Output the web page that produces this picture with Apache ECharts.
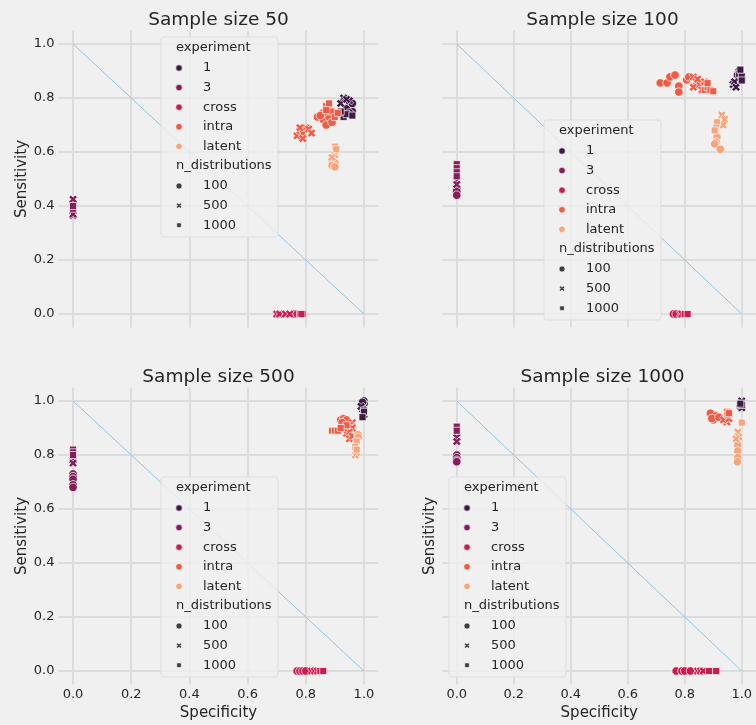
<!DOCTYPE html>
<html>
<head>
<meta charset="utf-8">
<script src="https://cdn.jsdelivr.net/npm/echarts@6/dist/echarts.min.js"></script>
<style>
  html, body { margin: 0; padding: 0; background: #f0f0f0; }
  #chart { width: 756px; height: 725px; }
</style>
</head>
<body>
<div id="chart"></div>
<script>
// Categories
const experiments = ['1', '3', 'cross', 'intra', 'latent'];
const nDistributions = [100, 500, 1000];
const sampleSizes = [50, 100, 500, 1000];
const tickValues = [0, 0.2, 0.4, 0.6, 0.8, 1.0];
const diagonal = [[0, 1], [1, 0]];

// Each row: [specificity, sensitivity, n_distributions]
const size50_exp1 = [[0.95,0.77,100],[0.96,0.75,100],[0.94,0.76,100],[0.96,0.78,100],[0.95,0.745,100],
  [0.93,0.80,500],[0.95,0.79,500],[0.92,0.78,500],[0.94,0.795,500],
  [0.93,0.73,1000],[0.94,0.74,1000],[0.96,0.735,1000],[0.92,0.75,1000]];
const size50_exp3 = [[0,0.41,100],[0,0.38,100],[0,0.425,500],[0,0.365,500],[0,0.37,500],
  [0,0.395,1000],[0,0.39,1000],[0,0.40,1000]];
const size50_cross = [[0.76,0,100],[0.77,0,100],[0.70,0,500],[0.71,0,500],[0.73,0,500],[0.745,0,500],
  [0.78,0,1000],[0.79,0,1000],[0.785,0,1000]];
const size50_intra = [[0.84,0.73,100],[0.86,0.72,100],[0.87,0.70,100],[0.88,0.73,100],[0.86,0.745,100],[0.89,0.71,100],[0.85,0.735,100],
  [0.77,0.66,500],[0.78,0.68,500],[0.79,0.67,500],[0.80,0.69,500],[0.81,0.685,500],[0.82,0.67,500],[0.79,0.65,500],[0.78,0.69,500],
  [0.87,0.77,1000],[0.88,0.76,1000],[0.89,0.75,1000],[0.90,0.73,1000],[0.88,0.78,1000],[0.87,0.755,1000],[0.91,0.745,1000]];
const size50_latent = [[0.89,0.57,100],[0.90,0.56,100],[0.89,0.55,100],[0.90,0.545,100],
  [0.90,0.59,500],[0.89,0.58,500],[0.90,0.62,1000],[0.905,0.61,1000]];

const size100_exp1 = [[0.99,0.90,100],[1.0,0.87,100],[0.985,0.885,100],
  [0.97,0.85,500],[0.975,0.86,500],[0.98,0.84,500],
  [0.99,0.89,1000],[1.0,0.88,1000],[0.995,0.905,1000],[1.0,0.865,1000]];
const size100_exp3 = [[0,0.465,100],[0,0.455,100],[0,0.44,100],[0,0.495,500],[0,0.48,500],
  [0,0.555,1000],[0,0.54,1000],[0,0.525,1000],[0,0.51,1000]];
const size100_cross = [[0.76,0,100],[0.77,0,100],[0.785,0,500],[0.79,0,500],[0.80,0,1000],[0.81,0,1000]];
const size100_intra = [[0.714,0.856,100],[0.738,0.856,100],[0.748,0.878,100],[0.766,0.885,100],[0.779,0.844,100],[0.779,0.822,100],[0.807,0.867,100],[0.814,0.878,100],
  [0.83,0.878,500],[0.84,0.86,500],[0.85,0.85,500],[0.86,0.83,500],[0.83,0.84,500],[0.87,0.86,500],[0.845,0.87,500],
  [0.87,0.83,1000],[0.88,0.84,1000],[0.89,0.83,1000],[0.90,0.825,1000],[0.88,0.855,1000]];
const size100_latent = [[0.913,0.655,100],[0.91,0.637,100],[0.905,0.63,100],[0.925,0.61,100],
  [0.93,0.737,500],[0.94,0.72,500],[0.935,0.70,500],
  [0.913,0.71,1000],[0.91,0.69,1000],[0.905,0.68,1000]];

const size500_exp1 = [[1.0,1.0,100],[1.0,0.99,100],[0.995,0.995,100],
  [0.995,0.97,500],[1.0,0.95,500],[0.99,0.98,500],
  [1.0,0.965,1000],[1.0,0.96,1000],[0.995,0.94,1000]];
const size500_exp3 = [[0,0.73,100],[0,0.72,100],[0,0.71,100],[0,0.69,100],[0,0.68,100],
  [0,0.78,500],[0,0.77,500],[0,0.82,1000],[0,0.81,1000],[0,0.80,1000]];
const size500_cross = [[0.77,0,100],[0.78,0,100],[0.79,0,100],[0.80,0,100],
  [0.82,0,500],[0.83,0,500],[0.84,0,500],[0.85,0,1000],[0.86,0,1000]];
const size500_intra = [[0.92,0.93,100],[0.93,0.935,100],[0.94,0.93,100],[0.925,0.92,100],
  [0.96,0.92,500],[0.95,0.91,500],[0.96,0.90,500],[0.94,0.88,500],[0.95,0.885,500],[0.95,0.86,500],[0.93,0.90,500],[0.96,0.87,500],
  [0.89,0.89,1000],[0.90,0.89,1000],[0.91,0.89,1000],[0.94,0.91,1000],[0.92,0.90,1000]];
const size500_latent = [[0.98,0.875,100],[0.98,0.865,100],
  [0.97,0.80,500],[0.975,0.81,500],
  [0.975,0.85,1000],[0.97,0.83,1000],[0.975,0.82,1000]];

const size1000_exp1 = [[0.995,0.98,100],[1.0,0.98,100],
  [1.0,1.0,500],[1.0,0.975,500],
  [1.0,0.99,1000],[1.0,0.985,1000],[0.995,0.99,1000]];
const size1000_exp3 = [[0,0.80,100],[0,0.79,100],[0,0.78,100],[0,0.775,100],
  [0,0.865,500],[0,0.85,500],[0,0.905,1000],[0,0.89,1000]];
const size1000_cross = [[0.77,0,100],[0.79,0,100],[0.80,0,100],[0.82,0,100],
  [0.845,0,500],[0.855,0,500],[0.865,0,500],[0.885,0,1000],[0.91,0,1000]];
const size1000_intra = [[0.89,0.955,100],[0.907,0.94,100],[0.90,0.93,100],[0.91,0.945,100],[0.895,0.935,100],[0.92,0.94,100],
  [0.948,0.922,500],[0.936,0.93,500],[0.955,0.935,500],
  [0.948,0.96,1000],[0.95,0.95,1000],[0.955,0.955,1000]];
const size1000_latent = [[0.986,0.837,100],[0.986,0.815,100],[0.986,0.79,100],[0.985,0.775,100],
  [0.986,0.885,500],[0.99,0.867,500],[0.98,0.86,500],[1.0,0.92,1000]];

const panelData = [
  [size50_exp1, size50_exp3, size50_cross, size50_intra, size50_latent],
  [size100_exp1, size100_exp3, size100_cross, size100_intra, size100_latent],
  [size500_exp1, size500_exp3, size500_cross, size500_intra, size500_latent],
  [size1000_exp1, size1000_exp3, size1000_cross, size1000_intra, size1000_latent]
];

// Styling
const FONT = 'DejaVu Sans';
const TEXT = '#262626';
const palette = ['#3e1a45', '#851e5a', '#cb1b4f', '#ef5b44', '#f6a47c'];
const STYLE_GREY = '#3c3c3c';
// thick "X" outline in a 10x10 box
const X_PTS = [[0,2.5],[2.5,0],[5,2.5],[7.5,0],[10,2.5],[7.5,5],[10,7.5],[7.5,10],[5,7.5],[2.5,10],[0,7.5],[2.5,5]];
const X_PATH = 'path://M' + X_PTS.map(p => p.join(',')).join('L') + 'Z';
const SQ_PATH = 'path://M0,0L10,0L10,10L0,10Z';
const styleSymbols = { 100: ['circle', 8.5], 500: [X_PATH, 8.5], 1000: [SQ_PATH, 7] };

const GRID_W = 320, GRID_H = 297;
const panels = [
  { left: 58.5,  top: 30.5,  xLabels: false, yLabels: true,  yName: true,  nameGap: 28, legend: [161, 37] },
  { left: 442.5, top: 30.5,  xLabels: false, yLabels: false, yName: false, nameGap: 5,  legend: [544, 120] },
  { left: 58.5,  top: 387.5, xLabels: true,  yLabels: true,  yName: true,  nameGap: 28, legend: [161, 477] },
  { left: 442.5, top: 387.5, xLabels: true,  yLabels: false, yName: true,  nameGap: 5,  legend: [449, 477] }
];

function valueAxis(i, showLabels, name, nameGap) {
  return {
    type: 'value', gridIndex: i, min: -0.05, max: 1.05,
    splitNumber: 5, minInterval: 0.2, maxInterval: 0.2,
    axisLine: { show: false }, axisTick: { show: false },
    splitLine: { show: true, showMinLine: false, showMaxLine: false,
      lineStyle: { color: '#dcdcdc', width: 2 } },
    axisLabel: {
      show: showLabels, showMinLabel: false, showMaxLabel: false,
      color: TEXT, fontSize: 13, fontFamily: FONT, margin: 4,
      formatter: v => tickValues.some(t => Math.abs(t - v) < 1e-9) ? v.toFixed(1) : ''
    },
    name: name, nameLocation: 'middle', nameGap: nameGap,
    nameTextStyle: { color: TEXT, fontSize: 15, fontFamily: FONT }
  };
}

// Legend marker shapes drawn as graphic elements
function legendMarker(kind, cx, cy, size, color) {
  const style = { fill: color, stroke: '#ffffff', lineWidth: 0.6 };
  if (kind === 'circle') {
    return { type: 'circle', z: 6, silent: true, shape: { cx: cx, cy: cy, r: size / 2 }, style: style };
  }
  if (kind === 'x') {
    const s = size / 10;
    return { type: 'polygon', z: 6, silent: true, style: style,
      shape: { points: X_PTS.map(p => [cx - size / 2 + p[0] * s, cy - size / 2 + p[1] * s]) } };
  }
  return { type: 'rect', z: 6, silent: true, style: style,
    shape: { x: cx - size / 2, y: cy - size / 2, width: size, height: size } };
}
const legendStyleShapes = { 100: ['circle', 6], 500: ['x', 5.5], 1000: ['square', 4.5] };

const grid = [], xAxis = [], yAxis = [], title = [], series = [], graphic = [];
const ROW = 19.6;

panels.forEach((p, i) => {
  grid.push({ left: p.left, top: p.top, width: GRID_W, height: GRID_H, containLabel: false });
  xAxis.push(valueAxis(i, p.xLabels, p.xLabels ? 'Specificity' : '', 21));
  yAxis.push(valueAxis(i, p.yLabels, p.yName ? 'Sensitivity' : '', p.nameGap));

  title.push({
    text: 'Sample size ' + sampleSizes[i],
    left: p.left + GRID_W / 2, top: p.top - 20, textAlign: 'center', padding: 0,
    textStyle: { color: TEXT, fontSize: 18.5, fontWeight: 'normal', fontFamily: FONT }
  });

  // diagonal reference line
  series.push({
    type: 'line', xAxisIndex: i, yAxisIndex: i, data: diagonal,
    symbol: 'none', silent: true, z: 1,
    lineStyle: { color: '#8cc6e7', width: 1 }
  });

  panelData[i].forEach((rows, e) => {
    series.push({
      type: 'scatter', name: experiments[e], xAxisIndex: i, yAxisIndex: i, z: 3,
      itemStyle: { color: palette[e], borderColor: '#ffffff', borderWidth: 0.7, opacity: 1 },
      data: rows.map(r => ({
        value: [r[0], r[1]],
        symbol: styleSymbols[r[2]][0],
        symbolSize: styleSymbols[r[2]][1]
      }))
    });
  });

  // legend: frame, headings, markers and labels
  const [bx, by] = p.legend;
  graphic.push({
    type: 'rect', z: 5, silent: true,
    shape: { x: bx, y: by, width: 117, height: 200, r: 3 },
    style: { fill: 'rgba(240,240,240,0.8)', stroke: '#dedede', lineWidth: 1 }
  });
  const label = (text, x, y) => ({
    type: 'text', z: 6, silent: true, x: x, y: y,
    style: { text: text, fill: TEXT, fontSize: 13, fontFamily: FONT, verticalAlign: 'middle' }
  });
  graphic.push(label('experiment', bx + 15, by + 11));
  experiments.forEach((name, e) => {
    const cy = by + 31 + e * ROW;
    graphic.push(legendMarker('circle', bx + 18, cy, 6.5, palette[e]));
    graphic.push(label(name, bx + 42, cy));
  });
  graphic.push(label('n_distributions', bx + 15, by + 129));
  nDistributions.forEach((n, k) => {
    const cy = by + 149 + k * ROW;
    const [kind, size] = legendStyleShapes[n];
    graphic.push(legendMarker(kind, bx + 18, cy, size, STYLE_GREY));
    graphic.push(label(String(n), bx + 42, cy));
  });
});

const chart = echarts.init(document.getElementById('chart'), null, { renderer: 'canvas' });
chart.setOption({
  backgroundColor: '#f0f0f0',
  animation: false,
  textStyle: { fontFamily: FONT },
  title, grid, xAxis, yAxis, series, graphic
});
</script>
</body>
</html>
